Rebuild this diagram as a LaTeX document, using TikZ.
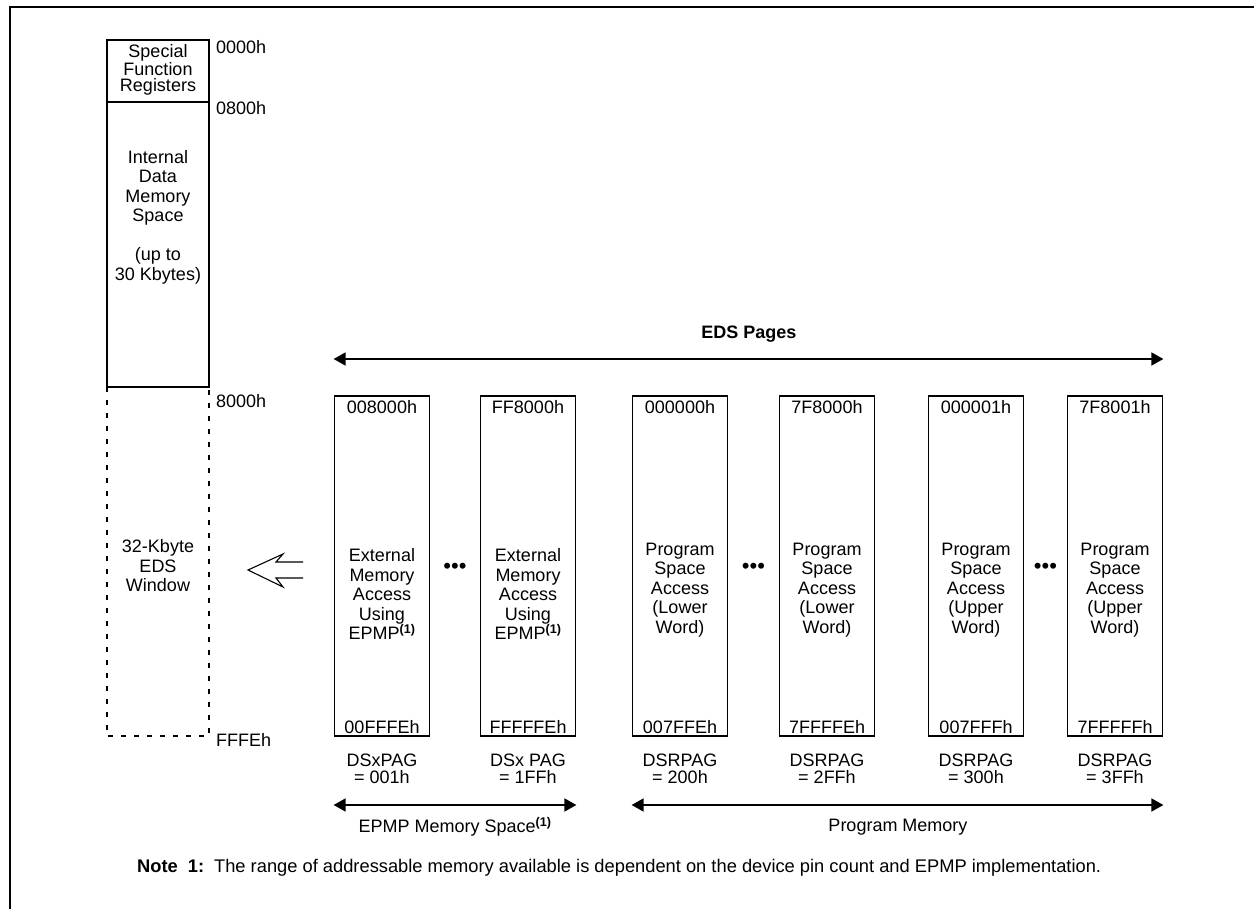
\documentclass[tikz,border=0pt]{standalone}
\usepackage{fontspec}
\setmainfont{Liberation Sans}
\usetikzlibrary{arrows.meta,calc}
\begin{document}
\begin{tikzpicture}[x=1pt,y=-1pt,
  lw/.style={line width=1.8pt},
  txt/.style={font=\fontsize{18}{17}\selectfont, align=center, inner sep=0pt},
  mtxt/.style={font=\fontsize{18}{19.5}\selectfont, align=center, inner sep=0pt},
  addr/.style={font=\fontsize{18}{18}\selectfont, inner sep=0pt, anchor=west},
  pagebox/.style={draw, lw, minimum width=95pt, minimum height=340pt, inner sep=0pt},
  darrow/.style={line width=1.6pt, {Triangle[length=12pt,width=13pt]}-{Triangle[length=12pt,width=13pt]}},
  dots/.style={font=\fontsize{22}{22}\selectfont, inner sep=0pt}
]
\useasboundingbox (0,0) rectangle (1254,909);
% frame (top and left only)
\draw[line width=2pt] (10,909) -- (10,7) -- (1254,7);

% left memory map
\node[draw, lw, minimum width=102pt, minimum height=62pt, inner sep=0pt] (sfr) at (158,71) {};
\node[draw, lw, minimum width=102pt, minimum height=285pt, inner sep=0pt] (ids) at (158,244.5) {};
\node[minimum width=102pt, minimum height=349pt, inner sep=0pt] (eds) at (158,561.5) {};
\draw[line width=1.5pt, dash pattern=on 5pt off 8pt] (eds.north west) -- (eds.south west) -- (eds.south east) -- (eds.north east);

\node[font=\fontsize{18}{16}\selectfont, align=center, inner sep=0pt] (sfrt) at ([yshift=1pt]sfr.center) {Special\\Function\\Registers};
\node[mtxt] (idst) at (158,217) {Internal\\Data\\Memory\\Space\\[19.5pt](up to\\30 Kbytes)};
\node[mtxt] (edst) at (158,566) {32-Kbyte\\EDS\\Window};

\node[addr] (a0) at (216,47) {0000h};
\node[addr] (a1) at (216,108) {0800h};
\node[addr] (a2) at (216,401) {8000h};
\node[addr] (a3) at (216,740) {FFFEh};

% hollow arrow
\coordinate (ha) at (248,570);
\draw[line width=1.1pt, line join=miter] (303,562) -- (276,562) -- (283,554) -- (ha) -- (283,587) -- (276,578) -- (303,578);

% pages
\node[pagebox] (p1) at (382,566) {};
\node[pagebox] (p2) at (528,566) {};
\node[pagebox] (p3) at (680,566) {};
\node[pagebox] (p4) at (827,566) {};
\node[pagebox] (p5) at (976,566) {};
\node[pagebox] (p6) at (1115,566) {};

\foreach \n/\top/\bot/\pa/\pb in {p1/008000h/00FFFEh/DSxPAG/= 001h, p2/FF8000h/FFFFFEh/DSx PAG/= 1FFh, p3/000000h/007FFEh/DSRPAG/= 200h, p4/7F8000h/7FFFFEh/DSRPAG/= 2FFh, p5/000001h/007FFFh/DSRPAG/= 300h, p6/7F8001h/7FFFFFh/DSRPAG/= 3FFh}{
  \node[txt] (\n top) at ([yshift=-12pt]\n.north) {\top};
  \node[txt] (\n bot) at ([yshift=10pt]\n.south) {\bot};
  \node[txt] (\n pag) at ([yshift=-32pt]\n.south) {\pa\\\pb};
}
\node[mtxt] (p1t) at ([yshift=-28pt]p1.center) {External\\Memory\\Access\\Using\\EPMP\textsuperscript{\bfseries(1)}};
\node[mtxt] (p2t) at ([yshift=-28pt]p2.center) {External\\Memory\\Access\\Using\\EPMP\textsuperscript{\bfseries(1)}};
\node[mtxt] (p3t) at ([yshift=-24pt]p3.center) {Program\\Space\\Access\\(Lower\\Word)};
\node[mtxt] (p4t) at ([yshift=-24pt]p4.center) {Program\\Space\\Access\\(Lower\\Word)};
\node[mtxt] (p5t) at ([yshift=-24pt]p5.center) {Program\\Space\\Access\\(Upper\\Word)};
\node[mtxt] (p6t) at ([yshift=-24pt]p6.center) {Program\\Space\\Access\\(Upper\\Word)};

\node[dots] (d1) at ($(p1.east)!0.5!(p2.west)+(0,2)$) {•••};
\node[dots] (d2) at ($(p3.east)!0.5!(p4.west)+(0,2)$) {•••};
\node[dots] (d3) at ($(p5.east)!0.5!(p6.west)+(0,2)$) {•••};

% EDS pages arrow
\coordinate (edsy) at (0,359);
\draw[darrow] (p1.west |- edsy) -- (p6.east |- edsy);
\node[font=\bfseries\fontsize{18}{18}\selectfont, inner sep=0pt] (edsl) at (749,334) {EDS Pages};

% bottom arrows
\coordinate (boty) at (0,805);
\draw[darrow] (p1.west |- boty) -- (p2.east |- boty);
\draw[darrow] (p3.west |- boty) -- (p6.east |- boty);
\node[txt] (epmpl) at (455,827) {EPMP Memory Space\textsuperscript{\bfseries(1)}};
\node[txt] (pml) at (898,827) {Program Memory};

% note
\node[font=\fontsize{18.3}{18}\selectfont, inner sep=0pt, anchor=west] (note) at (137,868) {\textbf{Note\hspace{10pt}1:}\hspace{10pt}The range of addressable memory available is dependent on the device pin count and EPMP implementation.};
\end{tikzpicture}
\end{document}
